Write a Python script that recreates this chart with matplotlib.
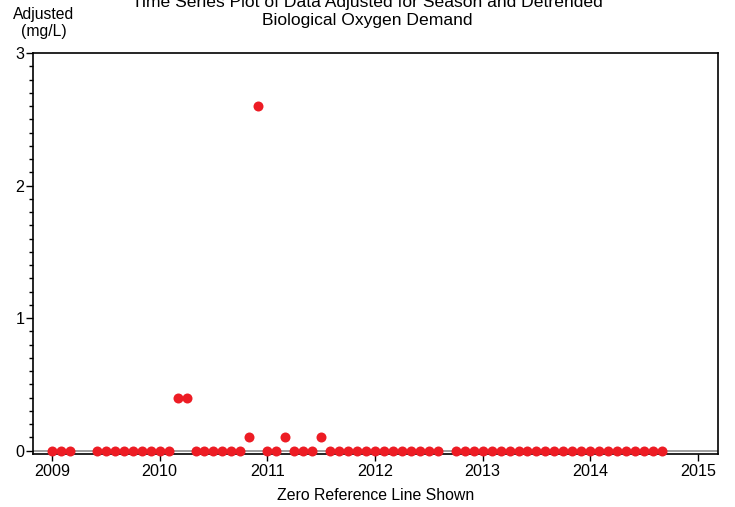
import matplotlib
matplotlib.use("Agg")
import matplotlib.pyplot as plt
from matplotlib.ticker import MultipleLocator

plt.rcParams['font.family'] = ['Liberation Sans', 'DejaVu Sans']

# monthly observations (year, month, adjusted value in mg/L)
years = [2009] * 10 + [2010] * 12 + [2011] * 12 + [2012] * 11 + [2013] * 12 + [2014] * 9
months = ([1, 2, 3, 6, 7, 8, 9, 10, 11, 12]
          + list(range(1, 13))
          + list(range(1, 13))
          + [1, 2, 3, 4, 5, 6, 7, 8, 10, 11, 12]
          + list(range(1, 13))
          + list(range(1, 10)))
values = ([0] * 10
          + [0, 0, 0.4, 0.4, 0, 0, 0, 0, 0, 0, 0.1, 2.6]
          + [0, 0, 0.1, 0, 0, 0, 0.1, 0, 0, 0, 0, 0]
          + [0] * 11
          + [0] * 12
          + [0] * 9)

year_ticks = [2009, 2010, 2011, 2012, 2013, 2014, 2015]
y_ticks = [0, 1, 2, 3]

t = [y + (m - 1) / 12 for y, m in zip(years, months)]

fig = plt.figure(figsize=(7.35, 5.07), dpi=100)
ax = fig.add_axes([33 / 735, 1 - 454 / 507, 685 / 735, 401 / 507])

ax.axhline(0, color='#8c8c8c', lw=1.2, zorder=1)
ax.plot(t, values, 'o', color='#ED1C24', mec='none', ms=7.2, zorder=3, clip_on=False)

ax.set_xlim(2008.824, 2015.186)
ax.set_ylim(-0.025, 3.0)
ax.set_xticks(year_ticks)
ax.set_xticklabels([str(y) for y in year_ticks])
ax.set_yticks(y_ticks)
ax.yaxis.set_minor_locator(MultipleLocator(0.1))
ax.tick_params(axis='both', which='major', direction='out', length=5, width=1, labelsize=11.6, pad=2)
ax.tick_params(axis='y', which='minor', direction='out', length=3, width=1)
ax.tick_params(axis='y', pad=1)
for s in ax.spines.values():
    s.set_linewidth(1.2)

ax.set_xlabel('Zero Reference Line Shown', fontsize=11.4, labelpad=7)

fig.text(367 / 735, 1 - 12 / 507,
         'Time Series Plot of Data Adjusted for Season and Detrended\nBiological Oxygen Demand',
         ha='center', va='center', fontsize=12.6, linespacing=1.25)
fig.text(44 / 735, 1 - 23 / 507, 'Adjusted\n(mg/L)', ha='center', va='center',
         fontsize=11.3, linespacing=1.2)

fig.savefig('out.png', dpi=100)
